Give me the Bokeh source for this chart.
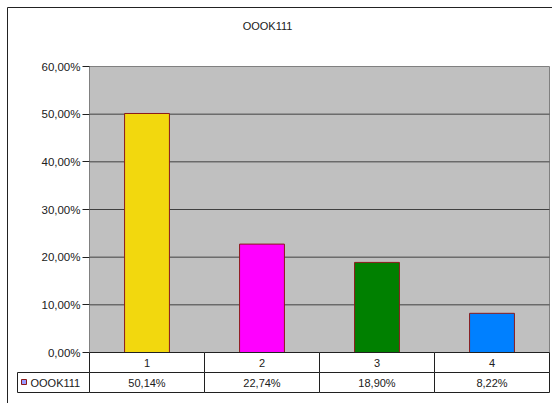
from bokeh.plotting import figure
from bokeh.models import FixedTicker, Range1d, ColumnDataSource
from bokeh.core.properties import value
from bokeh.embed import file_html
from bokeh.resources import INLINE

# ---- data ----
title_text = "OOOK111"
series_name = "OOOK111"
categories = ["1", "2", "3", "4"]
values = [0.5014, 0.2274, 0.1890, 0.0822]
value_labels = ["50,14%", "22,74%", "18,90%", "8,22%"]
bar_colors = ["#F2D80E", "#FF00FF", "#008000", "#0080FF"]
y_ticks = [0.0, 0.1, 0.2, 0.3, 0.4, 0.5, 0.6]
y_tick_labels = ["0,00%", "10,00%", "20,00%", "30,00%", "40,00%", "50,00%", "60,00%"]
y_max = 0.6

FONT = "Liberation Sans"
W, H = 552, 403
PL, PR, PT, PB = 89, 549, 66, 352  # plot-area edges in pixels
n = len(categories)

# The frame covers the whole canvas; ranges are chosen so that the
# plot area (categories 0.5..n+0.5, values 0..y_max) sits at PL..PR / PT..PB.
px_x = (PR - PL) / n
px_y = (PB - PT) / y_max
def xd(px):
    return 0.5 + (px - PL) / px_x
def yd(py):
    return (PB - py) / px_y

p = figure(width=W, height=H, output_backend="svg", toolbar_location=None,
           x_range=Range1d(xd(0), xd(W)), y_range=Range1d(yd(H), yd(0)),
           min_border=0, min_border_left=0, min_border_right=0,
           min_border_top=0, min_border_bottom=0)
p.background_fill_color = "white"
p.border_fill_color = "white"
p.outline_line_color = None
p.xaxis.visible = False
p.xgrid.visible = False
p.ygrid.visible = False

xs = list(range(1, n + 1))

# plot area background
p.quad(left=[0.5], right=[n + 0.5], bottom=[0], top=[y_max],
       fill_color="#C0C0C0", line_color="#808080", line_width=1)
# horizontal gridlines at the tick values
gl = [t for t in y_ticks if 0 < t < y_max]
p.segment(x0=[0.5] * len(gl), x1=[n + 0.5] * len(gl), y0=gl, y1=gl,
          line_color="#404040", line_width=1)

# bars
p.vbar(x=xs, top=values, width=0.39, fill_color=bar_colors,
       line_color="#8B1A1A", line_width=1)

# y axis fixed at the plot-area left edge
ya = p.yaxis[0]
ya.fixed_location = 0.5
ya.bounds = (0, y_max)
ya.ticker = FixedTicker(ticks=y_ticks)
ya.major_label_overrides = {t: l for t, l in zip(y_ticks, y_tick_labels)}
ya.major_tick_out = 7
ya.major_tick_in = 0
ya.minor_tick_out = 0
ya.minor_tick_in = 0
ya.axis_line_color = "#808080"
ya.major_tick_line_color = "#202020"
ya.major_label_standoff = 2
ya.major_label_text_font = FONT
ya.major_label_text_font_size = "11.5px"
ya.major_label_text_color = "#202020"

# outer chart border (top and left edges visible)
p.quad(left=[xd(7)], right=[xd(W + 20)], top=[yd(7)], bottom=[yd(H + 20)],
       fill_alpha=0, line_color="#222222", line_width=1)

# data table under the plot
R1, R2 = 372, 392
p.quad(left=[x - 0.5 for x in xs], right=[x + 0.5 for x in xs],
       top=[0] * n, bottom=[yd(R1)] * n,
       fill_color="white", line_color="#202020", line_width=1)
p.quad(left=[x - 0.5 for x in xs], right=[x + 0.5 for x in xs],
       top=[yd(R1)] * n, bottom=[yd(R2)] * n,
       fill_color="white", line_color="#202020", line_width=1)
p.quad(left=[xd(17)], right=[0.5], top=[yd(R1)], bottom=[yd(R2)],
       fill_color="white", line_color="#202020", line_width=1)

tsrc = ColumnDataSource(dict(x=xs, cat=categories, val=value_labels,
                             y1=[yd((PB + R1) / 2)] * n, y2=[yd((R1 + R2) / 2)] * n))
p.text(x="x", y="y1", text="cat", source=tsrc, text_align="center",
       text_baseline="middle", text_font=value(FONT), text_font_size="11px",
       text_color="#202020")
p.text(x="x", y="y2", text="val", source=tsrc, text_align="center",
       text_baseline="middle", text_font=value(FONT), text_font_size="11px",
       text_color="#202020")

# legend key
p.quad(left=[xd(21)], right=[xd(26)], top=[yd(379)], bottom=[yd(384)],
       fill_color="#9999FF", line_color="#8B1A1A", line_width=1)
p.text(x=[xd(30)], y=[yd((R1 + R2) / 2)], text=[series_name], text_align="left",
       text_baseline="middle", text_font=value(FONT), text_font_size="11px",
       text_color="#202020")

# title
p.text(x=[xd(267)], y=[yd(25)], text=[title_text], text_align="center",
       text_baseline="middle", text_font=value(FONT), text_font_size="11px",
       text_color="#202020")

open("out.html", "w").write(file_html(p, INLINE))
